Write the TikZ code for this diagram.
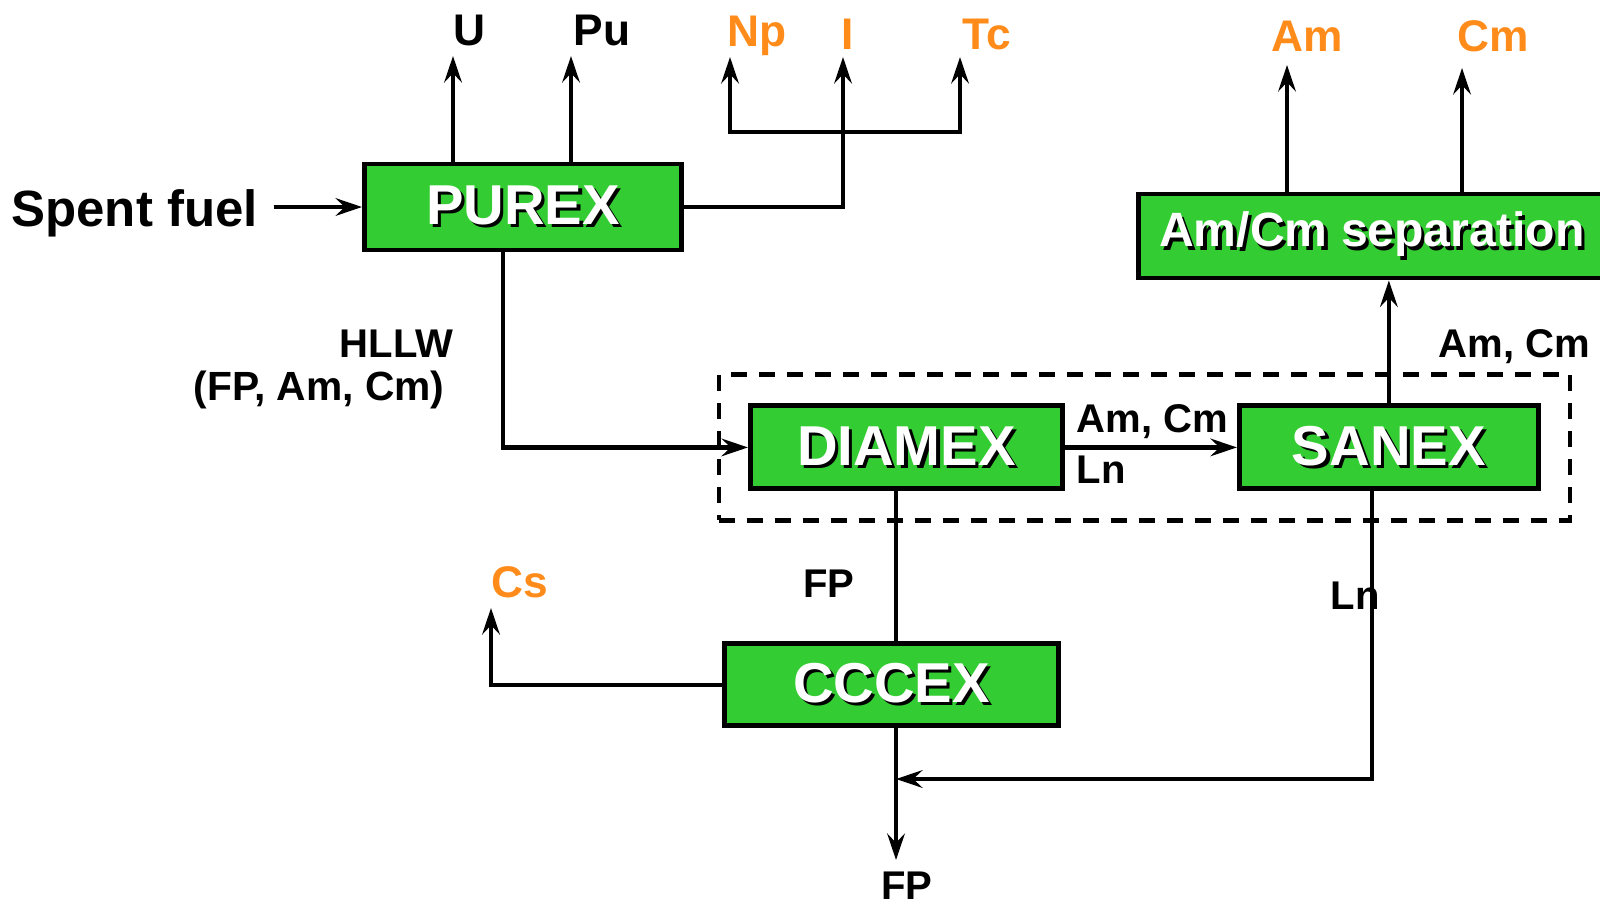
\documentclass[tikz,border=0pt]{standalone}
\usepackage{fontspec}
\setmainfont{Liberation Sans}
\usepackage{xcolor}
\usepackage{tikz}
\usetikzlibrary{arrows.meta, positioning, fit}
\definecolor{boxgreen}{RGB}{51,204,51}
\definecolor{prodorange}{RGB}{255,140,26}
\newcommand{\boxlabel}[1]{\rlap{\kern0.9pt\raisebox{-0.9pt}{\textcolor{black}{#1}}}\textcolor{white}{#1}}
\tikzset{
  box/.style={rectangle, draw=black, line width=1.4pt, fill=boxgreen, inner sep=0pt,
    font=\fontsize{16}{18}\selectfont\bfseries},
  tag/.style={anchor=base, inner sep=0pt, font=\fontsize{12.6}{14}\selectfont\bfseries},
  product/.style={tag, text=prodorange},
  stream/.style={anchor=base, inner sep=0pt, font=\fontsize{11.4}{13}\selectfont\bfseries},
  flow/.style={line width=1.25pt},
  arrow/.style={-{Stealth[length=7.5pt, width=5pt, inset=2.6pt]}, line width=1.25pt},
  dashbox/.style={rectangle, draw, line width=1.25pt, dash pattern=on 0.16cm off 0.12cm,
    inner sep=0.29cm},
}
\begin{document}
\begin{tikzpicture}
  \useasboundingbox (0,0) rectangle (16,-9.06);

  \node[box, minimum width=3.17cm, minimum height=0.86cm] (purex) at (5.23,-2.07)
    {\boxlabel{PUREX}};
  \node[box, below right=1.51cm and 0.64cm of purex, minimum width=3.12cm,
    minimum height=0.83cm] (diamex) {\boxlabel{DIAMEX}};
  \node[box, right=1.72cm of diamex, minimum width=2.99cm, minimum height=0.83cm]
    (sanex) {\boxlabel{SANEX}};
  \node[box, below=1.50cm of diamex, xshift=-0.15cm, minimum width=3.34cm,
    minimum height=0.82cm] (cccex) {\boxlabel{CCCEX}};
  \node[box, above=1.23cm of sanex, xshift=-0.17cm, minimum width=4.66cm,
    minimum height=0.84cm, font=\fontsize{13.7}{16}\selectfont\bfseries]
    (amcm) {\boxlabel{Am/Cm separation}};
  \node[dashbox, fit=(diamex) (sanex)] (extraction) {};

  \node[left=0.885cm of purex, yshift=-0.06cm, inner sep=0.15cm,
    font=\fontsize{14.5}{17}\selectfont\bfseries] (fuel) {Spent fuel};

  \coordinate (uTip) at (4.53,-0.56);
  \coordinate (puTip) at (5.71,-0.56);
  \coordinate (npTip) at (7.30,-0.57);
  \coordinate (iTip) at (8.43,-0.57);
  \coordinate (tcTip) at (9.60,-0.57);
  \coordinate (bar) at (8.43,-1.32);
  \coordinate (amTip) at (12.87,-0.65);
  \coordinate (cmTip) at (14.62,-0.68);
  \coordinate (hllwTurn) at (5.03,-4.45);
  \coordinate (csTip) at (4.91,-6.08);
  \coordinate (fpTip) at (8.96,-8.60);
  \coordinate (lnTurn) at (13.72,-7.79);

  \node[tag] (u) at (4.69,-0.45) {U};
  \node[tag] (pu) at (6.02,-0.45) {Pu};
  \node[product] (np) at (7.57,-0.46) {Np};
  \node[product] (iodine) at (8.48,-0.49) {I};
  \node[product] (tc) at (9.87,-0.49) {Tc};
  \node[product] (am) at (13.07,-0.51) {Am};
  \node[product] (cm) at (14.93,-0.51) {Cm};
  \node[product] (cs) at (5.20,-5.97) {Cs};

  \node[stream, anchor=base east] (hllw) at (4.54,-3.57) {HLLW};
  \node[stream, anchor=base east, font=\fontsize{11.6}{13}\selectfont\bfseries]
    (hllwMix) at (4.45,-4.00) {(FP, Am, Cm)};
  \node[stream, anchor=base west] (anOut) at (10.76,-4.32) {Am, Cm};
  \node[stream, anchor=base west] (lnOut) at (10.76,-4.83) {Ln};
  \node[stream, anchor=base west] (anUp) at (14.38,-3.57) {Am, Cm};
  \node[stream] (fpMid) at (8.29,-5.97) {FP};
  \node[stream, anchor=base west] (lnDown) at (13.30,-6.09) {Ln};
  \node[stream] (fpOut) at (9.07,-8.99) {FP};

  \draw[arrow] (purex.west -| fuel.east) -- (purex.west);
  \draw[arrow] (purex.north -| uTip) -- (uTip);
  \draw[arrow] (purex.north -| puTip) -- (puTip);
  \draw[arrow] (purex.east) -| (iTip);
  \draw[arrow] (bar) -| (npTip);
  \draw[arrow] (bar) -| (tcTip);
  \draw[arrow] (purex.south -| hllwTurn) |- (diamex.west);
  \draw[arrow] (diamex) -- (sanex);
  \draw[arrow] (sanex.north) -- (amcm.south -| sanex.north);
  \draw[arrow] (amcm.north -| amTip) -- (amTip);
  \draw[arrow] (amcm.north -| cmTip) -- (cmTip);
  \draw[flow] (diamex.south -| fpTip) -- (cccex.north -| fpTip);
  \draw[arrow] (cccex.south -| fpTip) -- (fpTip);
  \draw[arrow] (cccex.west) -| (csTip);
  \draw[arrow] (sanex.south -| lnTurn) |- (fpTip |- lnTurn);
\end{tikzpicture}
\end{document}
